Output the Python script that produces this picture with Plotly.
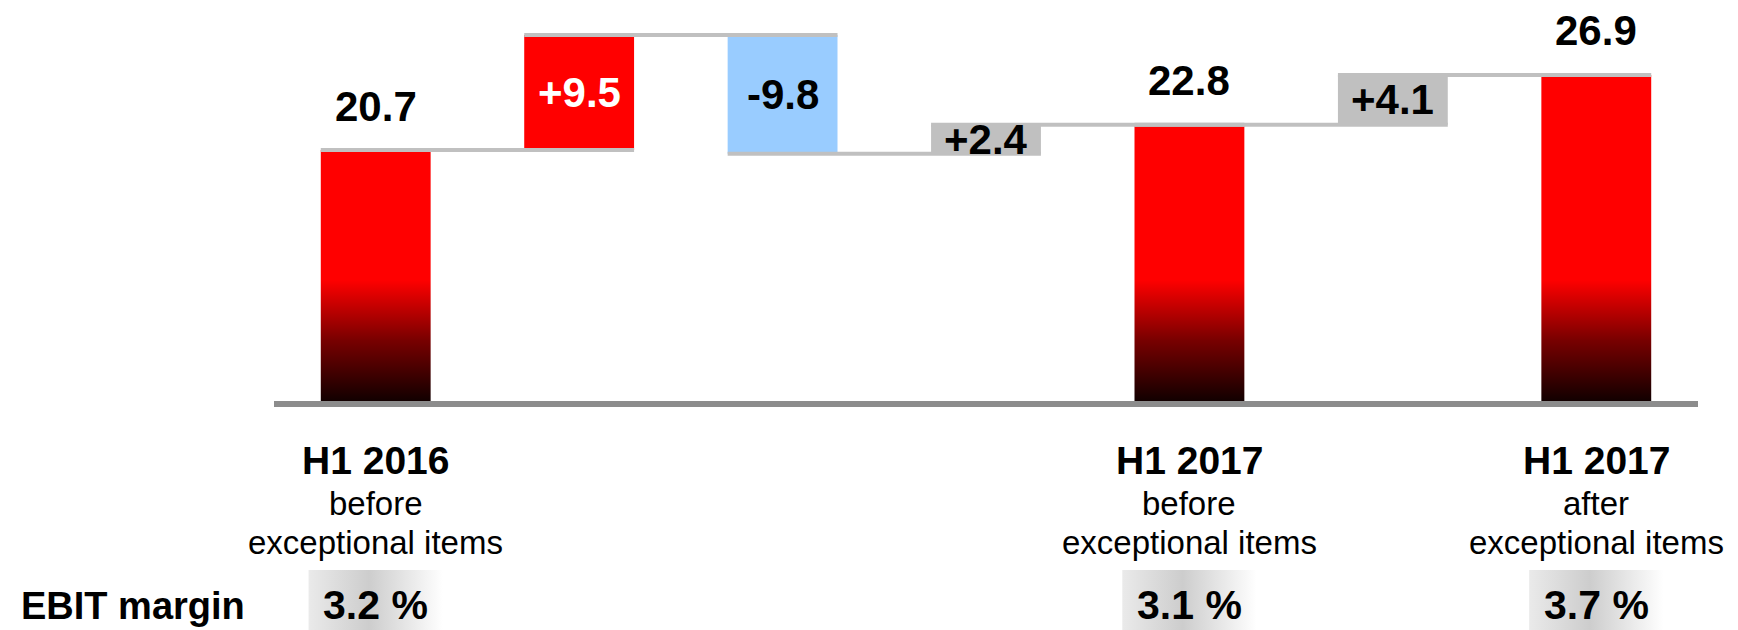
import plotly.graph_objects as go

# ---------------- data ----------------
cat_title = ["H1 2016", "", "", "", "H1 2017", "", "H1 2017"]
cat_sub1 = ["before", "", "", "", "before", "", "after"]
cat_sub2 = ["exceptional items", "", "", "", "exceptional items", "", "exceptional items"]
step_kind = ["total", "delta", "delta", "delta", "total", "delta", "total"]
step_values = [20.7, 9.5, -9.8, 2.4, 22.8, 4.1, 26.9]
step_labels = ["20.7", "+9.5", "-9.8", "+2.4", "22.8", "+4.1", "26.9"]
margin_labels = ["3.2 %", "", "", "", "3.1 %", "", "3.7 %"]
row_label = "EBIT margin"

delta_colors = {1: "#ff0000", 2: "#99ccff", 3: "#c0c0c0", 5: "#c0c0c0"}
delta_text_colors = {1: "#ffffff", 2: "#000000", 3: "#000000", 5: "#000000"}

# ---------------- geometry / style ----------------
W, H = 1738, 630
PLOT_L, PLOT_R = 274, 1698
BASE_Y = 401
PX_PER_UNIT = 12.12
N = len(step_values)
SLOT = (PLOT_R - PLOT_L) / N
BAR_W = 0.54
FONT = "Liberation Sans, Arial, sans-serif"
BIG = 42      # value labels
PCT = 41      # margin percentages
ROW = 38      # "EBIT margin"
TITLE = 39    # "H1 20xx"
SMALL = 33    # sub lines


def py(ypx):
    return (BASE_Y - ypx) / PX_PER_UNIT


def px(xpx):
    return -0.5 + (xpx - PLOT_L) / SLOT


# running totals
bases, tops = [], []
running = 0.0
for k, v in zip(step_kind, step_values):
    if k == "total":
        bases.append(0.0)
        tops.append(v)
        running = v
    else:
        bases.append(running)
        tops.append(running + v)
        running = running + v

fig = go.Figure()

# EBIT margin gradient backgrounds
for i, lab in enumerate(margin_labels):
    if not lab:
        continue
    x0, x1 = i - 0.33, i + 0.33
    fig.add_trace(go.Scatter(
        x=[x0, x1, x1, x0, x0], y=[py(H), py(H), py(570), py(570), py(H)],
        mode="lines", fill="toself", line=dict(width=0, color="rgba(0,0,0,0)"),
        fillgradient=dict(type="horizontal", start=x0, stop=x1,
                          colorscale=[[0, "#eaeaea"], [0.45, "#cdcdcd"], [1, "#ffffff"]]),
        hoverinfo="skip", showlegend=False))

# total bars with gradient
for i, k in enumerate(step_kind):
    if k != "total":
        continue
    x0, x1 = i - BAR_W / 2, i + BAR_W / 2
    fig.add_trace(go.Scatter(
        x=[x0, x1, x1, x0, x0], y=[bases[i], bases[i], tops[i], tops[i], bases[i]],
        mode="lines", fill="toself", line=dict(width=0, color="rgba(0,0,0,0)"),
        fillgradient=dict(type="vertical", start=0, stop=10,
                          colorscale=[[0, "#120000"], [0.5, "#780000"], [1, "#ff0000"]]),
        hoverinfo="skip", showlegend=False))

# delta bars
d_idx = [i for i, k in enumerate(step_kind) if k == "delta"]
fig.add_trace(go.Bar(
    x=d_idx, y=[step_values[i] for i in d_idx], base=[bases[i] for i in d_idx],
    width=BAR_W, marker=dict(color=[delta_colors[i] for i in d_idx], line=dict(width=0)),
    hoverinfo="skip", showlegend=False))

# connectors
for i in range(N - 1):
    lvl = tops[i]
    fig.add_trace(go.Scatter(
        x=[i - BAR_W / 2, i + 1 + BAR_W / 2], y=[lvl, lvl], mode="lines",
        line=dict(color="#c0c0c0", width=4), hoverinfo="skip", showlegend=False))

# baseline axis line
fig.add_shape(type="rect", xref="x", yref="y", x0=-0.5, x1=N - 0.5,
              ysizemode="pixel", yanchor=0, y0=-6, y1=0,
              fillcolor="#8c8c8c", line=dict(width=0), layer="above")

# value labels
for i, (k, lab) in enumerate(zip(step_kind, step_labels)):
    if k == "total":
        fig.add_annotation(x=i, y=tops[i], text="<b>" + lab + "</b>", showarrow=False,
                           yanchor="middle", yshift=29 + 0.36 * BIG,
                           font=dict(family=FONT, size=BIG, color="#000000"))
    else:
        fig.add_annotation(x=i, y=(bases[i] + tops[i]) / 2, text="<b>" + lab + "</b>",
                           showarrow=False, yanchor="middle", yshift=0,
                           font=dict(family=FONT, size=BIG, color=delta_text_colors[i]))

# category labels
for i in range(N):
    if cat_title[i]:
        fig.add_annotation(x=i, y=py(475 - 0.36 * TITLE), text="<b>" + cat_title[i] + "</b>",
                           showarrow=False, yanchor="middle",
                           font=dict(family=FONT, size=TITLE, color="#000000"))
    if cat_sub1[i]:
        fig.add_annotation(x=i, y=py(515 - 0.36 * SMALL), text=cat_sub1[i],
                           showarrow=False, yanchor="middle",
                           font=dict(family=FONT, size=SMALL, color="#000000"))
    if cat_sub2[i]:
        fig.add_annotation(x=i, y=py(554 - 0.36 * SMALL), text=cat_sub2[i],
                           showarrow=False, yanchor="middle",
                           font=dict(family=FONT, size=SMALL, color="#000000"))
    if margin_labels[i]:
        fig.add_annotation(x=i, y=py(620 - 0.36 * PCT), text="<b>" + margin_labels[i] + "</b>",
                           showarrow=False, yanchor="middle",
                           font=dict(family=FONT, size=PCT, color="#000000"))

fig.add_annotation(x=px(19), y=py(620 - 0.36 * ROW), text="<b>" + row_label + "</b>",
                   showarrow=False, xanchor="left", yanchor="middle",
                   font=dict(family=FONT, size=ROW, color="#000000"))

fig.update_layout(
    width=W, height=H, margin=dict(l=0, r=0, t=0, b=0),
    paper_bgcolor="#ffffff", plot_bgcolor="#ffffff",
    showlegend=False, hovermode=False, barmode="overlay",
    xaxis=dict(range=[px(0), px(W)], visible=False, fixedrange=True),
    yaxis=dict(range=[py(H), py(0)], visible=False, fixedrange=True),
)

fig.write_html("out.html")
